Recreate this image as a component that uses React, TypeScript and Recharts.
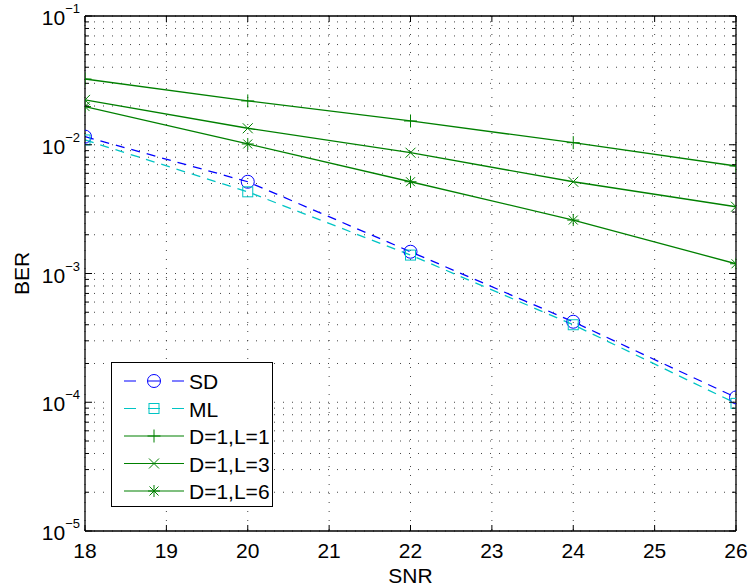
import { CartesianGrid, Legend, Line, LineChart, XAxis, YAxis } from 'recharts'

const snr = [18, 20, 22, 24, 26]
const sd = [0.01156, 0.00516, 0.001476, 0.000422, 0.000109]
const ml = [0.0109, 0.00431, 0.00139, 0.0004, 0.000098]
const d1l1 = [0.0324, 0.0219, 0.0153, 0.01038, 0.00684]
const d1l3 = [0.0223, 0.01343, 0.00867, 0.00516, 0.0033]
const d1l6 = [0.0198, 0.01014, 0.00516, 0.0026, 0.00119]

const xTicks = [18, 19, 20, 21, 22, 23, 24, 25, 26]
const decades = [-5, -4, -3, -2, -1]

const yTicks: number[] = []
decades.forEach((d) => {
  const m = d === -1 ? [1] : [1, 2, 3, 4, 5, 6, 7, 8, 9]
  m.forEach((k) => yTicks.push(Number((k * Math.pow(10, d)).toPrecision(3))))
})

const data = snr.map((s, i) => ({ snr: s, sd: sd[i], ml: ml[i], d1l1: d1l1[i], d1l3: d1l3[i], d1l6: d1l6[i] }))

const BLUE = '#0000ff'
const CYAN = '#00c4c4'
const GREEN = '#008000'
const FONT = '"Liberation Sans", Arial, sans-serif'

type MarkerKind = 'circle' | 'square' | 'plus' | 'cross' | 'star'

function Marker({ cx, cy, kind, color }: { cx: number; cy: number; kind: MarkerKind; color: string }) {
  const sw = 1
  if (kind === 'circle') return <circle cx={cx} cy={cy} r={6.5} fill="none" stroke={color} strokeWidth={sw} />
  if (kind === 'square')
    return <rect x={cx - 5} y={cy - 5} width={10} height={10} fill="none" stroke={color} strokeWidth={sw} />
  if (kind === 'plus')
    return (
      <g stroke={color} strokeWidth={sw}>
        <line x1={cx - 6.5} y1={cy} x2={cx + 6.5} y2={cy} />
        <line x1={cx} y1={cy - 6.5} x2={cx} y2={cy + 6.5} />
      </g>
    )
  if (kind === 'cross')
    return (
      <g stroke={color} strokeWidth={sw}>
        <line x1={cx - 5} y1={cy - 5} x2={cx + 5} y2={cy + 5} />
        <line x1={cx - 5} y1={cy + 5} x2={cx + 5} y2={cy - 5} />
      </g>
    )
  return (
    <g stroke={color} strokeWidth={sw}>
      <line x1={cx - 6} y1={cy} x2={cx + 6} y2={cy} />
      <line x1={cx} y1={cy - 6} x2={cx} y2={cy + 6} />
      <line x1={cx - 4.5} y1={cy - 4.5} x2={cx + 4.5} y2={cy + 4.5} />
      <line x1={cx - 4.5} y1={cy + 4.5} x2={cx + 4.5} y2={cy - 4.5} />
    </g>
  )
}

const series: { key: string; name: string; color: string; kind: MarkerKind; dash?: string }[] = [
  { key: 'sd', name: 'SD', color: BLUE, kind: 'circle', dash: '9 7' },
  { key: 'ml', name: 'ML', color: CYAN, kind: 'square', dash: '9 7' },
  { key: 'd1l1', name: 'D=1,L=1', color: GREEN, kind: 'plus' },
  { key: 'd1l3', name: 'D=1,L=3', color: GREEN, kind: 'cross' },
  { key: 'd1l6', name: 'D=1,L=6', color: GREEN, kind: 'star' },
]

const isDecade = (v: number) => Math.abs(Math.log10(v) - Math.round(Math.log10(v))) < 1e-6

function LeftTick(props: any) {
  const { x, y, payload } = props
  const v = payload.value
  const major = isDecade(v)
  return (
    <g>
      <line x1={x} y1={y} x2={x + (major ? 7 : 4)} y2={y} stroke="#000" strokeWidth={1} />
      {major && (
        <text x={x - 5} y={y + 9} textAnchor="end" fontSize={21} fontFamily={FONT} fill="#000">
          <tspan>10</tspan>
          <tspan dy={-12} fontSize={13}>
            {'\u2212' + Math.abs(Math.round(Math.log10(v)))}
          </tspan>
        </text>
      )}
    </g>
  )
}

function RightTick(props: any) {
  const { x, y, payload } = props
  const major = isDecade(payload.value)
  return <line x1={x} y1={y} x2={x - (major ? 7 : 4)} y2={y} stroke="#000" strokeWidth={1} />
}

function BottomTick(props: any) {
  const { x, y, payload } = props
  return (
    <g>
      <line x1={x} y1={y} x2={x} y2={y - 6} stroke="#000" strokeWidth={1} />
      <text x={x} y={y + 27} textAnchor="middle" fontSize={21} fontFamily={FONT} fill="#000">
        {payload.value}
      </text>
    </g>
  )
}

function TopTick(props: any) {
  const { x, y } = props
  return <line x1={x} y1={y} x2={x} y2={y + 6} stroke="#000" strokeWidth={1} />
}

function XTitle(props: any) {
  const { x, y, width } = props.viewBox
  return (
    <text x={x + width / 2} y={y + 52} textAnchor="middle" fontSize={21} fontFamily={FONT} fill="#000">
      SNR
    </text>
  )
}

function YTitle(props: any) {
  const { y, height } = props.viewBox
  const cx = 21
  const cy = y + height / 2
  return (
    <text
      x={cx}
      y={cy}
      transform={`rotate(-90 ${cx} ${cy})`}
      textAnchor="middle"
      dominantBaseline="central"
      fontSize={21}
      fontFamily={FONT}
      fill="#000"
    >
      BER
    </text>
  )
}

function LegendBox() {
  const rowH = 27.5
  return (
    <div style={{ border: '1px solid #000', background: '#fff', width: 160, height: 143 }}>
      <svg width={160} height={143}>
        {series.map((s, i) => {
          const y = 18 + i * rowH
          return (
            <g key={s.key}>
              <line
                x1={12}
                y1={y}
                x2={72}
                y2={y}
                stroke={s.color}
                strokeWidth={1.2}
                strokeDasharray={s.dash ? '12 12' : undefined}
              />
              <Marker cx={42} cy={y} kind={s.kind} color={s.color} />
              <text x={77} y={y + 8} fontSize={21} fontFamily={FONT} fill="#000">
                {s.name}
              </text>
            </g>
          )
        })}
      </svg>
    </div>
  )
}

export default function App() {
  return (
    <div style={{ position: 'absolute', left: 0, top: 0, width: 749, height: 588, background: '#fff' }}>
      <LineChart width={749} height={588} data={data} margin={{ top: 15, right: 12, bottom: 0, left: 0 }}>
        <CartesianGrid stroke="#444" strokeDasharray="1 8" strokeWidth={1} />
        <XAxis
          dataKey="snr"
          type="number"
          domain={[18, 26]}
          ticks={xTicks}
          interval={0}
          allowDataOverflow
          height={57}
          tickSize={0}
          tickMargin={0}
          tickLine={false}
          tick={<BottomTick />}
          axisLine={{ stroke: '#000', strokeWidth: 1.3 }}
          label={<XTitle />}
        />
        <XAxis
          xAxisId="top"
          orientation="top"
          dataKey="snr"
          type="number"
          domain={[18, 26]}
          ticks={xTicks}
          interval={0}
          allowDataOverflow
          height={1}
          tickSize={0}
          tickMargin={0}
          tickLine={false}
          tick={<TopTick />}
          axisLine={{ stroke: '#000', strokeWidth: 1.3 }}
        />
        <YAxis
          type="number"
          scale="log"
          domain={[1e-5, 1e-1]}
          ticks={yTicks}
          interval={0}
          allowDataOverflow
          width={85}
          tickSize={0}
          tickMargin={0}
          tickLine={false}
          tick={<LeftTick />}
          axisLine={{ stroke: '#000', strokeWidth: 1.3 }}
          label={<YTitle />}
        />
        <YAxis
          yAxisId="right"
          orientation="right"
          type="number"
          scale="log"
          domain={[1e-5, 1e-1]}
          ticks={yTicks}
          interval={0}
          allowDataOverflow
          width={1}
          tickSize={0}
          tickMargin={0}
          tickLine={false}
          tick={<RightTick />}
          axisLine={{ stroke: '#000', strokeWidth: 1.3 }}
        />
        {series.map((s) => (
          <Line
            key={s.key}
            type="linear"
            dataKey={s.key}
            name={s.name}
            stroke={s.color}
            strokeWidth={1.3}
            strokeDasharray={s.dash}
            isAnimationActive={false}
            activeDot={false}
            dot={(p: any) => <Marker key={`${s.key}-${p.index}`} cx={p.cx} cy={p.cy} kind={s.kind} color={s.color} />}
          />
        ))}
        <Legend
          layout="vertical"
          align="center"
          verticalAlign="middle"
          content={<LegendBox />}
          wrapperStyle={{ left: 111, top: 362, width: 162, height: 145 }}
        />
      </LineChart>
    </div>
  )
}
